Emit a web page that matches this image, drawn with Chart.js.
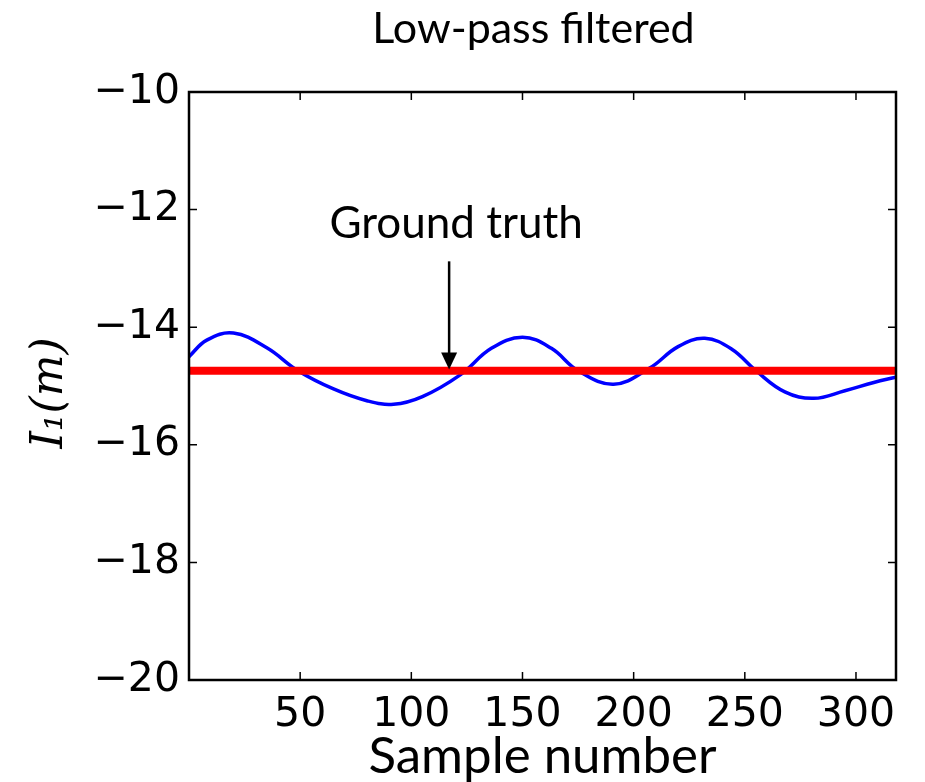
<!DOCTYPE html>
<html>
<head>
<meta charset="utf-8">
<script src="https://cdn.jsdelivr.net/npm/chart.js@4.4.1/dist/chart.umd.min.js"></script>
<style>
  html, body { margin: 0; padding: 0; background: #fff; }
  #chart { display: block; }
</style>
</head>
<body>
<canvas id="chart" width="925" height="782"></canvas>
<script>
// values
const sampleNumbers = [0, 8, 20, 35, 49, 65, 80, 92, 105, 122, 136, 150, 163, 175, 191, 207, 220, 232, 244, 255, 268, 281, 295, 308, 318];
const filteredValues = [-14.50, -14.22, -14.10, -14.35, -14.74, -15.05, -15.25, -15.31, -15.18, -14.81, -14.36, -14.17, -14.36, -14.74, -14.97, -14.70, -14.33, -14.19, -14.37, -14.74, -15.10, -15.21, -15.08, -14.94, -14.85];
const groundTruthX = [0, 318];
const groundTruthY = [-14.74, -14.74];
const xTicks = [50, 100, 150, 200, 250, 300];
const yTicks = [-20, -18, -16, -14, -12, -10];

const chartTitle = "Low-pass filtered";
const arrowLabel = "Ground truth";
const arrowX = 117;
const arrowFromY = -12.88;
const arrowToY = -14.72;

const minus = v => (v < 0 ? "\u2212" + Math.abs(v) : String(v));

// box, inward ticks, title and the arrow note
const framePlugin = {
  id: "frame",
  afterDatasetsDraw(chart) {
    const { ctx, chartArea: a, scales: { x, y } } = chart;
    ctx.save();
    ctx.strokeStyle = "#000";
    ctx.lineWidth = 2.5;
    ctx.strokeRect(a.left, a.top, a.right - a.left, a.bottom - a.top);

    ctx.lineWidth = 1.5;
    ctx.beginPath();
    xTicks.forEach(v => {
      const px = x.getPixelForValue(v);
      ctx.moveTo(px, a.bottom); ctx.lineTo(px, a.bottom - 8);
      ctx.moveTo(px, a.top); ctx.lineTo(px, a.top + 8);
    });
    yTicks.forEach(v => {
      const py = y.getPixelForValue(v);
      ctx.moveTo(a.left, py); ctx.lineTo(a.left + 8, py);
      ctx.moveTo(a.right, py); ctx.lineTo(a.right - 8, py);
    });
    ctx.stroke();

    // arrow
    const ax = x.getPixelForValue(arrowX);
    const y0 = y.getPixelForValue(arrowFromY);
    const y1 = y.getPixelForValue(arrowToY);
    ctx.lineWidth = 2.5;
    ctx.beginPath();
    ctx.moveTo(ax, y0); ctx.lineTo(ax, y1 - 14);
    ctx.stroke();
    ctx.fillStyle = "#000";
    ctx.beginPath();
    ctx.moveTo(ax - 8, y1 - 17); ctx.lineTo(ax + 8, y1 - 17); ctx.lineTo(ax, y1);
    ctx.closePath();
    ctx.fill();

    ctx.textAlign = "center";
    ctx.textBaseline = "alphabetic";
    ctx.font = "44px Lato";
    ctx.fillText(arrowLabel, ax + 7, y0 - 23);

    ctx.font = "43px Lato";
    ctx.fillText(chartTitle, (a.left + a.right) / 2 - 9, 43);
    ctx.restore();
  }
};

new Chart(document.getElementById("chart"), {
  type: "line",
  data: {
    datasets: [
      {
        label: "Ground truth",
        data: groundTruthX.map((v, i) => ({ x: v, y: groundTruthY[i] })),
        borderColor: "#ff0000",
        borderWidth: 8,
        pointRadius: 0
      },
      {
        label: "Low-pass filtered",
        data: sampleNumbers.map((v, i) => ({ x: v, y: filteredValues[i] })),
        borderColor: "#0000ff",
        borderWidth: 3.5,
        pointRadius: 0,
        tension: 0.4
      }
    ]
  },
  options: {
    responsive: false,
    animation: false,
    devicePixelRatio: 1,
    layout: { padding: { left: 0, right: 29, top: 92, bottom: 0 } },
    plugins: { legend: { display: false }, tooltip: { enabled: false } },
    scales: {
      x: {
        type: "linear",
        min: 0,
        max: 318,
        grid: { display: false, drawTicks: false },
        border: { display: false },
        afterBuildTicks: s => { s.ticks = xTicks.map(v => ({ value: v })); },
        afterFit: s => { s.height = 102; },
        ticks: {
          padding: 11,
          color: "#000",
          font: { family: "DejaVu Sans", size: 41 },
          maxRotation: 0,
          callback: v => minus(v)
        },
        title: {
          display: true,
          text: "Sample number",
          color: "#000",
          font: { family: "Lato", size: 51, lineHeight: 1 },
          padding: { top: 0, bottom: 0 }
        }
      },
      y: {
        min: -20,
        max: -10,
        grid: { display: false, drawTicks: false },
        border: { display: false },
        afterBuildTicks: s => { s.ticks = yTicks.map(v => ({ value: v })); },
        afterFit: s => { s.width = 189; },
        ticks: {
          padding: 9,
          color: "#000",
          font: { family: "DejaVu Sans", size: 41 },
          callback: v => minus(v)
        },
        title: {
          display: true,
          text: "I\u2081(m) ",
          color: "#000",
          font: { family: "DejaVu Serif", size: 44, style: "italic" },
          padding: { top: 24, bottom: 0 }
        }
      }
    }
  },
  plugins: [framePlugin]
});
</script>
</body>
</html>
